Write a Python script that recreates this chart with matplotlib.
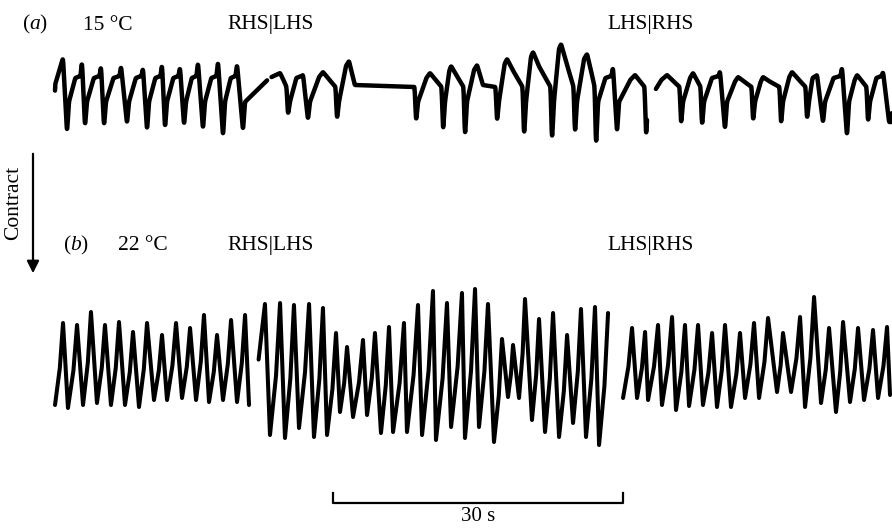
import numpy as np
import matplotlib.pyplot as plt
from matplotlib.transforms import blended_transform_factory

plt.rcParams['font.family'] = ['Liberation Serif', 'DejaVu Serif']
plt.rcParams['mathtext.fontset'] = 'custom'
plt.rcParams['mathtext.it'] = 'Liberation Serif:italic'
plt.rcParams['mathtext.rm'] = 'Liberation Serif'

# ---- trace (a), 15 C : downward spikes (contraction) with a peak before each ----
a_start = (0.0, 1.5)
a_spike_t = [1.24, 3.10, 5.07, 7.45, 9.52, 11.38, 13.35, 15.31, 17.38, 19.45,
             24.10, 26.17, 29.17, 37.35, 40.14, 42.41, 45.72, 48.52, 51.41, 53.79,
             55.97, 58.14, 61.14, 64.76, 66.93, 69.31, 72.21, 75.10, 77.79, 79.45,
             81.93, 84.10, 86.28]
a_spike_v = [-3.3, -2.7, -2.7, -2.4, -3.1, -2.9, -2.6, -3.0, -3.7, -3.1,
             -1.5, -2.0, -2.0, -2.2, -3.2, -3.8, -2.2, -3.7, -4.2, -3.5,
             -4.8, -3.3, -3.8, -2.5, -2.7, -3.0, -2.2, -2.5, -2.0, -2.3,
             -3.7, -2.3, -2.2]
a_peak_t = [0.83, 2.79, 4.76, 6.83, 9.10, 11.07, 12.93, 14.79, 16.86, 18.83,
            23.28, 25.66, 27.72, 30.41, 38.79, 40.97, 43.66, 46.76, 49.45, 52.35,
            55.04, 57.72, 60.00, 63.31, 66.00, 68.79, 70.66, 73.24, 76.24, 78.83,
            81.41, 82.97, 85.66]
a_peak_v = [4.2, 3.9, 3.4, 3.4, 3.2, 3.6, 3.3, 3.8, 3.9, 3.6,
            2.7, 2.5, 2.8, 3.9, 2.7, 3.4, 3.5, 4.1, 4.8, 5.6,
            4.6, 3.3, 2.5, 2.5, 2.7, 2.9, 2.3, 2.3, 2.8, 2.5,
            3.3, 2.5, 2.8]
a_breaks = [(21.95, 22.40), (61.25, 62.15)]

# ---- trace (b), 22 C : alternating peaks and troughs ----
b_peak_t = [0.83, 2.28, 3.72, 5.17, 6.62, 8.07, 9.52, 11.07, 12.52, 13.97,
            15.41, 16.76, 18.21, 19.66,
            21.72, 23.28, 24.72, 26.28, 27.72, 29.07, 30.21, 31.86, 33.10, 34.55,
            36.10, 37.55, 39.10, 40.55, 42.10, 43.45, 44.79, 46.24, 47.38, 48.62,
            50.07, 51.52, 52.97, 54.41, 55.86, 57.21,
            59.69, 61.04, 62.38, 63.83, 65.17, 66.52, 67.97, 69.31, 70.86, 72.31,
            73.76, 75.31, 77.07, 78.52, 80.07, 81.52, 83.07, 84.62, 86.07]
b_peak_v = [4.7, 4.5, 5.8, 4.5, 4.8, 3.8, 4.7, 3.5, 4.7, 4.2,
            5.5, 3.5, 5.0, 5.5,
            6.6, 6.7, 6.5, 6.6, 6.2, 3.7, 2.3, 3.0, 3.7, 4.3,
            4.7, 6.5, 7.9, 6.7, 7.7, 8.1, 6.6, 3.1, 2.5, 7.1,
            5.1, 5.7, 3.5, 6.1, 6.3, 5.7,
            4.2, 3.8, 4.5, 5.3, 4.5, 4.5, 3.7, 4.5, 3.7, 4.7,
            5.2, 3.7, 5.3, 7.3, 4.2, 4.8, 4.2, 4.0, 4.3]
b_trough_t = [0.00, 1.34, 2.90, 4.34, 5.79, 7.24, 8.69, 10.24, 11.59, 13.14,
              14.59, 15.93, 17.38, 18.83, 20.07,
              22.24, 23.79, 25.24, 26.79, 28.14, 29.48, 30.83, 32.28, 33.72, 34.97,
              36.41, 37.97, 39.41, 40.97, 42.41, 43.86, 45.41, 46.86, 48.00, 49.34,
              50.69, 52.14, 53.59, 54.93, 56.28,
              58.76, 60.21, 61.35, 62.79, 64.24, 65.59, 67.03, 68.48, 69.93, 71.38,
              72.83, 74.69, 76.14, 77.59, 79.24, 80.79, 82.24, 83.69, 85.14, 86.38]
b_trough_v = [-3.5, -3.8, -3.5, -3.3, -3.5, -3.5, -3.7, -3.0, -3.0, -2.8,
              -3.0, -3.2, -3.0, -3.2, -3.5,
              -6.5, -6.8, -5.8, -6.7, -6.5, -4.2, -4.7, -4.5, -6.3, -6.2,
              -6.2, -6.5, -7.0, -5.7, -6.8, -5.7, -7.2, -2.7, -2.8, -5.0,
              -6.2, -6.7, -5.3, -6.7, -7.5,
              -2.8, -2.8, -3.0, -3.5, -4.0, -3.6, -3.5, -3.7, -3.7, -2.8,
              -2.8, -2.2, -2.2, -3.7, -3.3, -4.2, -3.2, -3.0, -2.8, -2.5]
b_breaks = [20.9, 58.0]

scale_start = 28.8
scale_len = 30
labels_a = ['($a$)', '15 °C', 'RHS|LHS', 'LHS|RHS']
labels_b = ['($b$)', '22 °C', 'RHS|LHS', 'LHS|RHS']


def trace_a():
    rec, shoulder, plat = -0.2, 2.2, 1.3
    tt, vv = [a_start[0]], [a_start[1]]
    prev = a_start[0]
    for i in range(len(a_spike_t)):
        s1, b1 = a_spike_t[i], a_spike_v[i]
        pt, pv = a_peak_t[i], a_peak_v[i]
        if i > 0:
            tt.append(prev + 0.2); vv.append(rec)
        if s1 - pt < 0.8:
            if i > 0:
                tt += [prev + 0.55 * (pt - prev), pt - 0.15]
                vv += [shoulder, shoulder + 0.2]
            tt.append(pt); vv.append(pv)
        else:
            tt += [pt - 0.3 * (pt - prev - 0.2), pt]
            vv += [pv - 0.5, pv]
            tail = s1 - pt
            post = plat + 0.6 * (pv - plat) if tail < 2 else plat + 0.2
            tt += [pt + min(0.35 * tail, 0.6), s1 - 0.15]
            vv += [post, plat]
        tt.append(s1); vv.append(b1)
        prev = s1
    grid = np.arange(0, tt[-1] + 0.3, 0.02)
    y = np.interp(grid, tt, vv)
    k = np.ones(5) / 5
    y = np.convolve(y, k, mode='same')
    for lo, hi in a_breaks:
        y[(grid > lo) & (grid < hi)] = np.nan
    return grid, y


def trace_b():
    pts = [(t, v) for t, v in zip(b_peak_t, b_peak_v)]
    pts += [(t, v) for t, v in zip(b_trough_t, b_trough_v)]
    kind = {t: 'p' for t in b_peak_t}
    kind.update({t: 't' for t in b_trough_t})
    pts.sort()
    tt, vv = [], []
    for j, (t, v) in enumerate(pts):
        tt.append(t); vv.append(v)
        if j + 1 < len(pts) and kind[t] == 't':
            t2, v2 = pts[j + 1]
            tt.append(t + 0.6 * (t2 - t)); vv.append(v + 0.45 * (v2 - v))
    for bt in b_breaks:
        idx = np.searchsorted(tt, bt)
        tt.insert(idx, bt); vv.insert(idx, np.nan)
    return np.array(tt), np.array(vv)


W, H = 892, 528
fig = plt.figure(figsize=(W / 100, H / 100), dpi=100)
xlim = (-55 / 9.667, (W - 55) / 9.667)

ax_a = fig.add_axes([0, 1 - 170 / H, 1, 140 / H])
ax_a.set_xlim(xlim); ax_a.set_ylim(-7, 7); ax_a.axis('off')
ta, ya = trace_a()
ax_a.plot(ta, ya, color='black', lw=3.2, solid_joinstyle='round', solid_capstyle='round')

ax_b = fig.add_axes([0, 1 - 470 / H, 1, 210 / H])
ax_b.set_xlim(xlim); ax_b.set_ylim(-10, 11); ax_b.axis('off')
tb, yb = trace_b()
ax_b.plot(tb, yb, color='black', lw=2.9, solid_joinstyle='round', solid_capstyle='round')

# time scale bar
tr = blended_transform_factory(ax_b.transData, fig.transFigure)
y0, y1 = 1 - 503 / H, 1 - 493 / H
ax_b.plot([scale_start, scale_start, scale_start + scale_len, scale_start + scale_len],
          [y1, y0, y0, y1], color='black', lw=1.6, transform=tr, clip_on=False)
ax_b.text(scale_start + scale_len / 2, 1 - 521 / H, f'{scale_len} s', transform=tr,
          ha='center', va='baseline', fontsize=15)

# labels
fs = 15.5
for lab, x in zip(labels_a, [22, 83, 227, 607]):
    fig.text(x / W, 1 - 29.5 / H, lab, fontsize=fs, va='baseline')
for lab, x in zip(labels_b, [63, 118, 227, 607]):
    fig.text(x / W, 1 - 250 / H, lab, fontsize=fs, va='baseline')

fig.text(13.5 / W, 1 - 203 / H, 'Contract', rotation=90, ha='center', va='center', fontsize=fs)
ax_a.annotate('', xy=(33 / W, 1 - 276 / H), xytext=(33 / W, 1 - 151 / H),
              xycoords='figure fraction', textcoords='figure fraction',
              arrowprops=dict(arrowstyle='-|>', lw=1.6, color='black', mutation_scale=18),
              annotation_clip=False)

fig.savefig('out.png', dpi=100, facecolor='white')
